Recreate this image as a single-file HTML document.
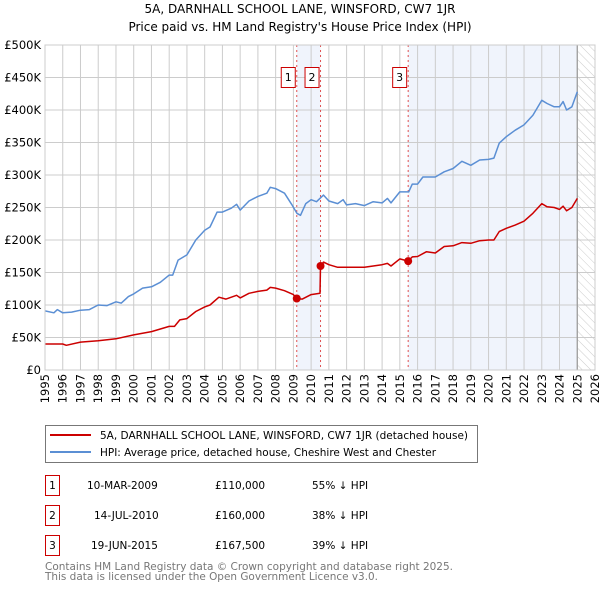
<!DOCTYPE html>
<html><head><meta charset="utf-8"><style>
body{margin:0;background:#fff;}
svg{font-family:"DejaVu Sans","Liberation Sans",sans-serif;}
</style></head><body>
<svg id="chart" width="600" height="590" viewBox="0 0 600 590" xmlns="http://www.w3.org/2000/svg">
<defs>
<pattern id="hatch" width="6" height="6" patternUnits="userSpaceOnUse" patternTransform="rotate(-45)">
<line x1="0" y1="0" x2="0" y2="6" stroke="#ccc" stroke-width="1"/>
</pattern>
</defs>
<text x="300" y="13" text-anchor="middle" font-size="12" fill="#000">5A, DARNHALL SCHOOL LANE, WINSFORD, CW7 1JR</text>
<text x="300" y="31" text-anchor="middle" font-size="12" fill="#000">Price paid vs. HM Land Registry's House Price Index (HPI)</text>
<g id="plot"></g>
<g>
<rect x="45.5" y="425.5" width="432" height="37" fill="#fff" stroke="#777"/>
<line x1="50" y1="435" x2="91" y2="435" stroke="#cc0000" stroke-width="2"/>
<text x="100" y="439" font-size="10.5" textLength="368" lengthAdjust="spacingAndGlyphs">5A, DARNHALL SCHOOL LANE, WINSFORD, CW7 1JR (detached house)</text>
<line x1="50" y1="452" x2="91" y2="452" stroke="#5b8fd4" stroke-width="2"/>
<text x="100" y="456" font-size="10.5" textLength="336" lengthAdjust="spacingAndGlyphs">HPI: Average price, detached house, Cheshire West and Chester</text>
</g>
<g font-size="10.5">
<g><rect x="45.5" y="475.5" width="14" height="20" fill="#fff" stroke="#cc0000"/><text x="52.5" y="489" text-anchor="middle">1</text><text x="87" y="489">10-MAR-2009</text><text x="215" y="489">£110,000</text><text x="312" y="489">55% ↓ HPI</text></g>
<g><rect x="45.5" y="505.5" width="14" height="20" fill="#fff" stroke="#cc0000"/><text x="52.5" y="519" text-anchor="middle">2</text><text x="94" y="519">14-JUL-2010</text><text x="215" y="519">£160,000</text><text x="312" y="519">38% ↓ HPI</text></g>
<g><rect x="45.5" y="535.5" width="14" height="20" fill="#fff" stroke="#cc0000"/><text x="52.5" y="549" text-anchor="middle">3</text><text x="91" y="549">19-JUN-2015</text><text x="215" y="549">£167,500</text><text x="312" y="549">39% ↓ HPI</text></g>
</g>
<text x="45" y="570" font-size="10.5" fill="#777" textLength="408" lengthAdjust="spacingAndGlyphs">Contains HM Land Registry data © Crown copyright and database right 2025.</text>
<text x="45" y="580" font-size="10.5" fill="#777" textLength="333" lengthAdjust="spacingAndGlyphs">This data is licensed under the Open Government Licence v3.0.</text>
</svg>
<script>
const yTicks=[0,50,100,150,200,250,300,350,400,450,500];
const yTickLabels=["£0","£50K","£100K","£150K","£200K","£250K","£300K","£350K","£400K","£450K","£500K"];
const xYears=[1995,1996,1997,1998,1999,2000,2001,2002,2003,2004,2005,2006,2007,2008,2009,2010,2011,2012,2013,2014,2015,2016,2017,2018,2019,2020,2021,2022,2023,2024,2025,2026];
const hpiDates=[1995.0,1995.5,1995.7,1996.0,1996.5,1997.0,1997.5,1998.0,1998.5,1999.0,1999.3,1999.7,2000.0,2000.5,2001.0,2001.5,2002.0,2002.2,2002.5,2003.0,2003.5,2004.0,2004.3,2004.7,2005.0,2005.5,2005.8,2006.0,2006.5,2007.0,2007.5,2007.7,2008.0,2008.5,2008.9,2009.2,2009.4,2009.7,2010.0,2010.3,2010.7,2011.0,2011.5,2011.8,2012.0,2012.5,2013.0,2013.5,2014.0,2014.3,2014.5,2015.0,2015.5,2015.7,2016.0,2016.3,2017.0,2017.5,2018.0,2018.5,2019.0,2019.5,2020.0,2020.3,2020.6,2021.0,2021.5,2022.0,2022.5,2023.0,2023.3,2023.7,2024.0,2024.2,2024.4,2024.7,2025.0];
const hpiValues=[91,88,93,88,89,92,93,100,99,105,103,113,117,126,128,135,146,146,169,177,200,215,220,243,243,249,255,246,260,267,272,281,279,272,255,241,238,256,262,259,269,260,256,262,254,256,253,259,257,264,257,274,274,286,286,297,297,305,310,321,315,323,324,326,349,359,369,377,392,415,410,405,405,413,400,405,428];
const priceDates=[1995.0,1996.0,1996.2,1997.0,1998.0,1999.0,2000.0,2001.0,2002.0,2002.3,2002.6,2003.0,2003.5,2004.0,2004.3,2004.8,2005.2,2005.8,2006.0,2006.5,2007.0,2007.5,2007.7,2008.0,2008.5,2009.0,2009.19,2009.5,2010.0,2010.5,2010.53,2010.7,2011.0,2011.5,2012.0,2013.0,2013.5,2014.0,2014.3,2014.5,2015.0,2015.47,2015.7,2016.0,2016.5,2017.0,2017.5,2018.0,2018.5,2019.0,2019.5,2020.0,2020.3,2020.6,2021.0,2021.5,2022.0,2022.5,2023.0,2023.3,2023.7,2024.0,2024.2,2024.4,2024.7,2025.0];
const priceValues=[40,40,38,43,45,48,54,59,67,67,77,79,90,97,100,112,109,115,111,118,121,123,127,126,122,116,110,109,116,118,160,166,162,158,158,158,160,162,164,160,171,167.5,174,174.6,182,180,190,191,196,195,199,200,200,213,218,223,229,241,256,251,250,247,252,245,250,264];
const saleDates=[2009.19,2010.53,2015.47];
const saleValues=[110,160,167.5];
const saleLabels=["1","2","3"];

const X0=45,X1=595,Y0=370,Y1=45;
const xs=y=>X0+(y-1995)/(2026-1995)*(X1-X0);
const ys=v=>Y0-v/500*(Y0-Y1);
const NS="http://www.w3.org/2000/svg";
const plot=document.getElementById('plot');
function mk(tag,attrs,parent){const e=document.createElementNS(NS,tag);for(const k in attrs)e.setAttribute(k,attrs[k]);(parent||plot).appendChild(e);return e;}

let r=mk('rect',{x:xs(saleDates[0]),y:Y1,width:xs(saleDates[1])-xs(saleDates[0]),height:Y0-Y1,fill:'#f0f4fc'});


r=mk('rect',{x:xs(saleDates[2]),y:Y1,width:xs(2025)-xs(saleDates[2]),height:Y0-Y1,fill:'#f0f4fc'});


r=mk('rect',{x:xs(2025),y:Y1,width:X1-xs(2025),height:Y0-Y1,fill:'url(#hatch)'});



yTicks.forEach((t,i)=>{
 const l=mk('line',{x1:X0,x2:X1,y1:ys(t),y2:ys(t),stroke:'#ccc','stroke-width':1});
 
 
 const tx=mk('text',{x:X0-4,y:ys(t)+4,'text-anchor':'end','font-size':11.5,fill:'#000'});
 tx.textContent=yTickLabels[i];
 
 
});
xYears.forEach(yr=>{
 const l=mk('line',{x1:xs(yr),x2:xs(yr),y1:Y1,y2:Y0,stroke:'#ccc','stroke-width':1});
 
 
 const tx=mk('text',{transform:`translate(${xs(yr)+4},${Y0+4}) rotate(-90)`,'text-anchor':'end','font-size':11.5,fill:'#000'});
 tx.textContent=yr;
 
 
});
let l=mk('line',{x1:xs(2025),x2:xs(2025),y1:Y1,y2:Y0,stroke:'#999','stroke-width':1.2});



saleDates.forEach((d,i)=>{
 const v=mk('line',{x1:xs(d),x2:xs(d),y1:Y1,y2:Y0,stroke:'#e05050','stroke-width':1,'stroke-dasharray':'2,3'});
 
 
});

function path(dates,vals,color,name){
 const d=dates.map((t,i)=>(i?'L':'M')+xs(t).toFixed(1)+','+ys(vals[i]).toFixed(1)).join('');
 const p=mk('path',{d:d,fill:'none',stroke:color,'stroke-width':1.5,'stroke-linejoin':'round'});
 
 
}
path(hpiDates,hpiValues,'#5b8fd4','hpi-line');
path(priceDates,priceValues,'#cc0000','price-paid-line');

saleDates.forEach((d,i)=>{
 const c=mk('circle',{cx:xs(d),cy:ys(saleValues[i]),r:4,fill:'#cc0000'});
 
 
 const g=mk('g',{});
 
 
 mk('rect',{x:xs(d)-15.5,y:67.5,width:14,height:20,fill:'#fff',stroke:'#cc0000'},g);
 const t=mk('text',{x:xs(d)-8.5,y:81,'text-anchor':'middle','font-size':11},g);
 t.textContent=saleLabels[i];
});
let b=mk('rect',{x:X0,y:Y1,width:X1-X0,height:Y0-Y1,fill:'none',stroke:'#ccc'});


</script>
</body></html>
